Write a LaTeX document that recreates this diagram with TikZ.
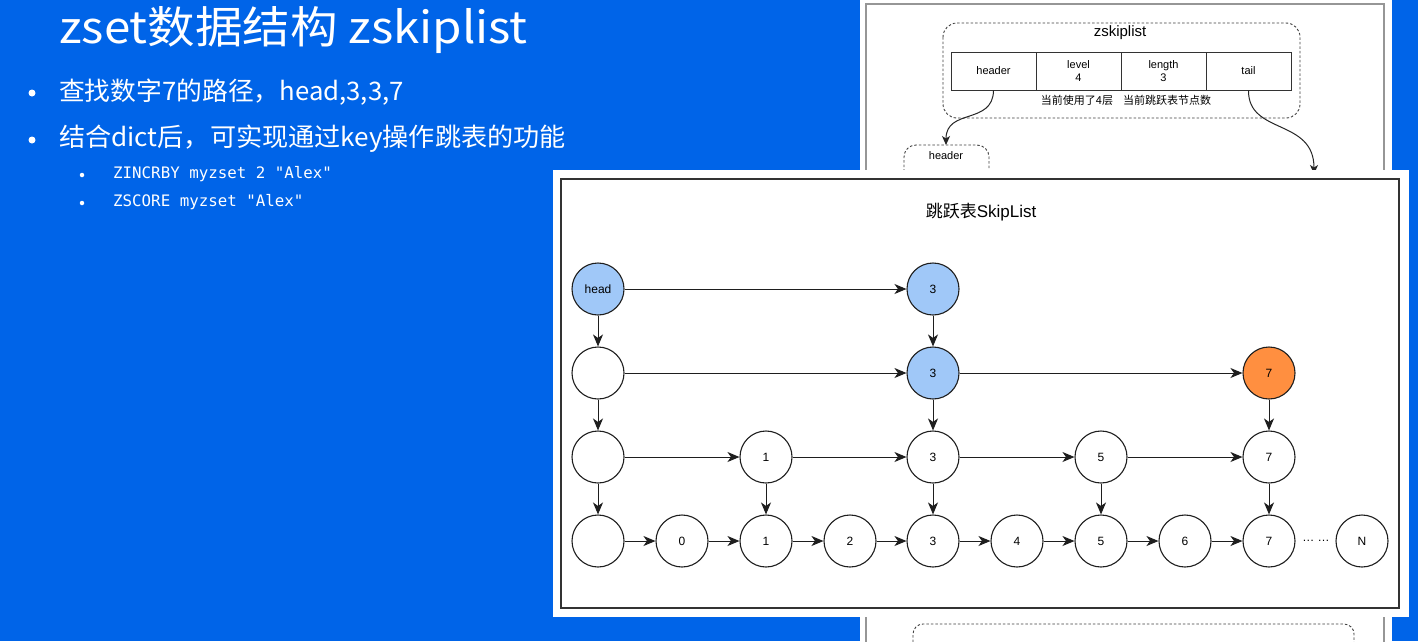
\documentclass[tikz,border=0pt]{standalone}
\usepackage{fontspec}
\setmainfont{Liberation Sans}
\newfontfamily\cjk{Noto Sans CJK SC}
\newfontfamily\monof{DejaVu Sans Mono}
\usetikzlibrary{arrows.meta}
\definecolor{bgblue}{RGB}{0,100,232}
\definecolor{nodeblue}{RGB}{160,200,248}
\definecolor{nodeorange}{RGB}{255,143,64}
\definecolor{edgec}{RGB}{30,30,30}
\definecolor{panelgray}{RGB}{150,150,150}
\begin{document}
\begin{tikzpicture}[x=1pt,y=-1pt,
  sk/.style={circle, draw=edgec, line width=1.1pt, fill=white, minimum size=52pt, inner sep=0pt, font=\fontsize{12}{12}\selectfont},
  hl/.style={sk, fill=nodeblue},
  hot/.style={sk, fill=nodeorange},
  link/.style={draw=edgec, line width=1pt, -{Stealth[length=12pt,width=10pt,inset=3.5pt]}},
  curv/.style={draw=black!85, line width=1pt, -{Stealth[length=9pt,width=8pt,inset=2.5pt]}},
  dbox/.style={draw=black!75, line width=0.9pt, dash pattern=on 2.5pt off 2pt},
  cell/.style={draw=black!80, line width=0.8pt, minimum width=85pt, minimum height=38pt, inner sep=0pt, align=center, font=\fontsize{11}{13}\selectfont},
  whitetxt/.style={text=white, inner sep=0pt},
  bigdot/.style={circle, fill=white, inner sep=0pt, minimum size=7pt},
  smalldot/.style={circle, fill=white, inner sep=0pt, minimum size=4.5pt},
  small/.style={inner sep=0pt, font=\fontsize{11}{11}\selectfont}
]
\useasboundingbox (0,0) rectangle (1418,641);
\fill[bgblue] (0,0) rectangle (1418,641);

% ---------- slide text ----------
\node[whitetxt, anchor=base west, font=\cjk\fontsize{44}{44}\selectfont] (title) at (59,43) {\scalebox{1.08}[1]{zset数据结构 zskiplist}};
\node[bigdot] (dot1) at (32,93) {};
\node[whitetxt, anchor=west, font=\cjk\fontsize{25.5}{25.5}\selectfont] (b1) at (59,92) {\scalebox{1.01}[1]{查找数字7的路径，head,3,3,7}};
\node[bigdot] (dot2) at (32,140) {};
\node[whitetxt, anchor=west, font=\cjk\fontsize{25.5}{25.5}\selectfont] (b2) at (59,139) {\scalebox{1.025}[1]{结合dict后，可实现通过key操作跳表的功能}};
\node[smalldot] (dot3) at (82,175) {};
\node[whitetxt, anchor=west, font=\monof\fontsize{15.8}{15.8}\selectfont] (s1) at (113,174) {ZINCRBY myzset 2 "Alex"};
\node[smalldot] (dot4) at (82,203) {};
\node[whitetxt, anchor=west, font=\monof\fontsize{15.8}{15.8}\selectfont] (s2) at (113,202) {ZSCORE myzset "Alex"};

% ---------- back panel (zskiplist) ----------
\fill[white] (860,0) rectangle (1392,641);
\draw[panelgray, line width=1.5pt] (866,645) -- (866,4) -- (1384,4) -- (1384,645);
\draw[dbox, rounded corners=14pt] (943,23) rectangle (1300,118);
\node[font=\fontsize{15}{15}\selectfont, inner sep=0pt] (zsl) at (1120,33) {zskiplist};
\node[cell] (hdr) at (993.5,71) {header};
\node[cell] (lvl) at (1078.5,71) {level\\4};
\node[cell] (len) at (1163.5,71) {length\\3};
\node[cell] (tl) at (1248.5,71) {tail};
\node[small, font=\cjk\fontsize{11}{11}\selectfont] (lvlnote) at (1077,100) {当前使用了4层};
\node[small, font=\cjk\fontsize{11}{11}\selectfont] (lennote) at (1167,100) {当前跳跃表节点数};
\draw[dbox, rounded corners=12pt] (904,230) -- (904,145) -- (989,145) -- (989,230);
\coordinate (hboxtop) at (946,145);
\node[small] (hboxlbl) at (946,156) {header};
\draw[curv] (hdr.south) .. controls (993,125) and (946,108) .. (hboxtop);
\coordinate (tailend) at (1314,174);
\draw[curv] (tl.south) .. controls (1248,135) and (1314,118) .. (tailend);
\draw[dbox, rounded corners=10pt] (913,660) -- (913,624) -- (1354,624) -- (1354,660);

% ---------- front panel (SkipList) ----------
\fill[white] (553,170) rectangle (1409,617);
\draw[black!80, line width=1.3pt] (561,179) rectangle (1399,608);
\node[inner sep=0pt, font=\fontsize{17}{17}\selectfont] (sltitle) at (981,212) {{\cjk 跳跃表}SkipList};

% row 1
\node[hl] (h1) at (598,289) {head};
\node[hl] (a1) at (933,289) {3};
% row 2
\node[sk] (e2) at (598,373) {};
\node[hl] (b2n) at (933,373) {3};
\node[hot] (c2) at (1269,373) {7};
% row 3
\node[sk] (e3) at (598,457) {};
\node[sk] (n31) at (766,457) {1};
\node[sk] (n33) at (933,457) {3};
\node[sk] (n35) at (1101,457) {5};
\node[sk] (n37) at (1269,457) {7};
% row 4
\node[sk] (e4) at (598,541) {};
\node[sk] (n40) at (682,541) {0};
\node[sk] (n41) at (766,541) {1};
\node[sk] (n42) at (850,541) {2};
\node[sk] (n43) at (933,541) {3};
\node[sk] (n44) at (1017,541) {4};
\node[sk] (n45) at (1101,541) {5};
\node[sk] (n46) at (1185,541) {6};
\node[sk] (n47) at (1269,541) {7};
\node[inner sep=0pt, font=\fontsize{12}{12}\selectfont] (ell) at (1316,541) {… …};
\node[sk] (nN) at (1362,541) {N};

% horizontal links
\draw[link] (h1) -- (a1);
\draw[link] (e2) -- (b2n);
\draw[link] (b2n) -- (c2);
\draw[link] (e3) -- (n31);
\draw[link] (n31) -- (n33);
\draw[link] (n33) -- (n35);
\draw[link] (n35) -- (n37);
\draw[link] (e4) -- (n40);
\draw[link] (n40) -- (n41);
\draw[link] (n41) -- (n42);
\draw[link] (n42) -- (n43);
\draw[link] (n43) -- (n44);
\draw[link] (n44) -- (n45);
\draw[link] (n45) -- (n46);
\draw[link] (n46) -- (n47);
% vertical links
\draw[link] (h1) -- (e2);
\draw[link] (e2) -- (e3);
\draw[link] (e3) -- (e4);
\draw[link] (a1) -- (b2n);
\draw[link] (b2n) -- (n33);
\draw[link] (n33) -- (n43);
\draw[link] (c2) -- (n37);
\draw[link] (n37) -- (n47);
\draw[link] (n31) -- (n41);
\draw[link] (n35) -- (n45);
\end{tikzpicture}
\end{document}
